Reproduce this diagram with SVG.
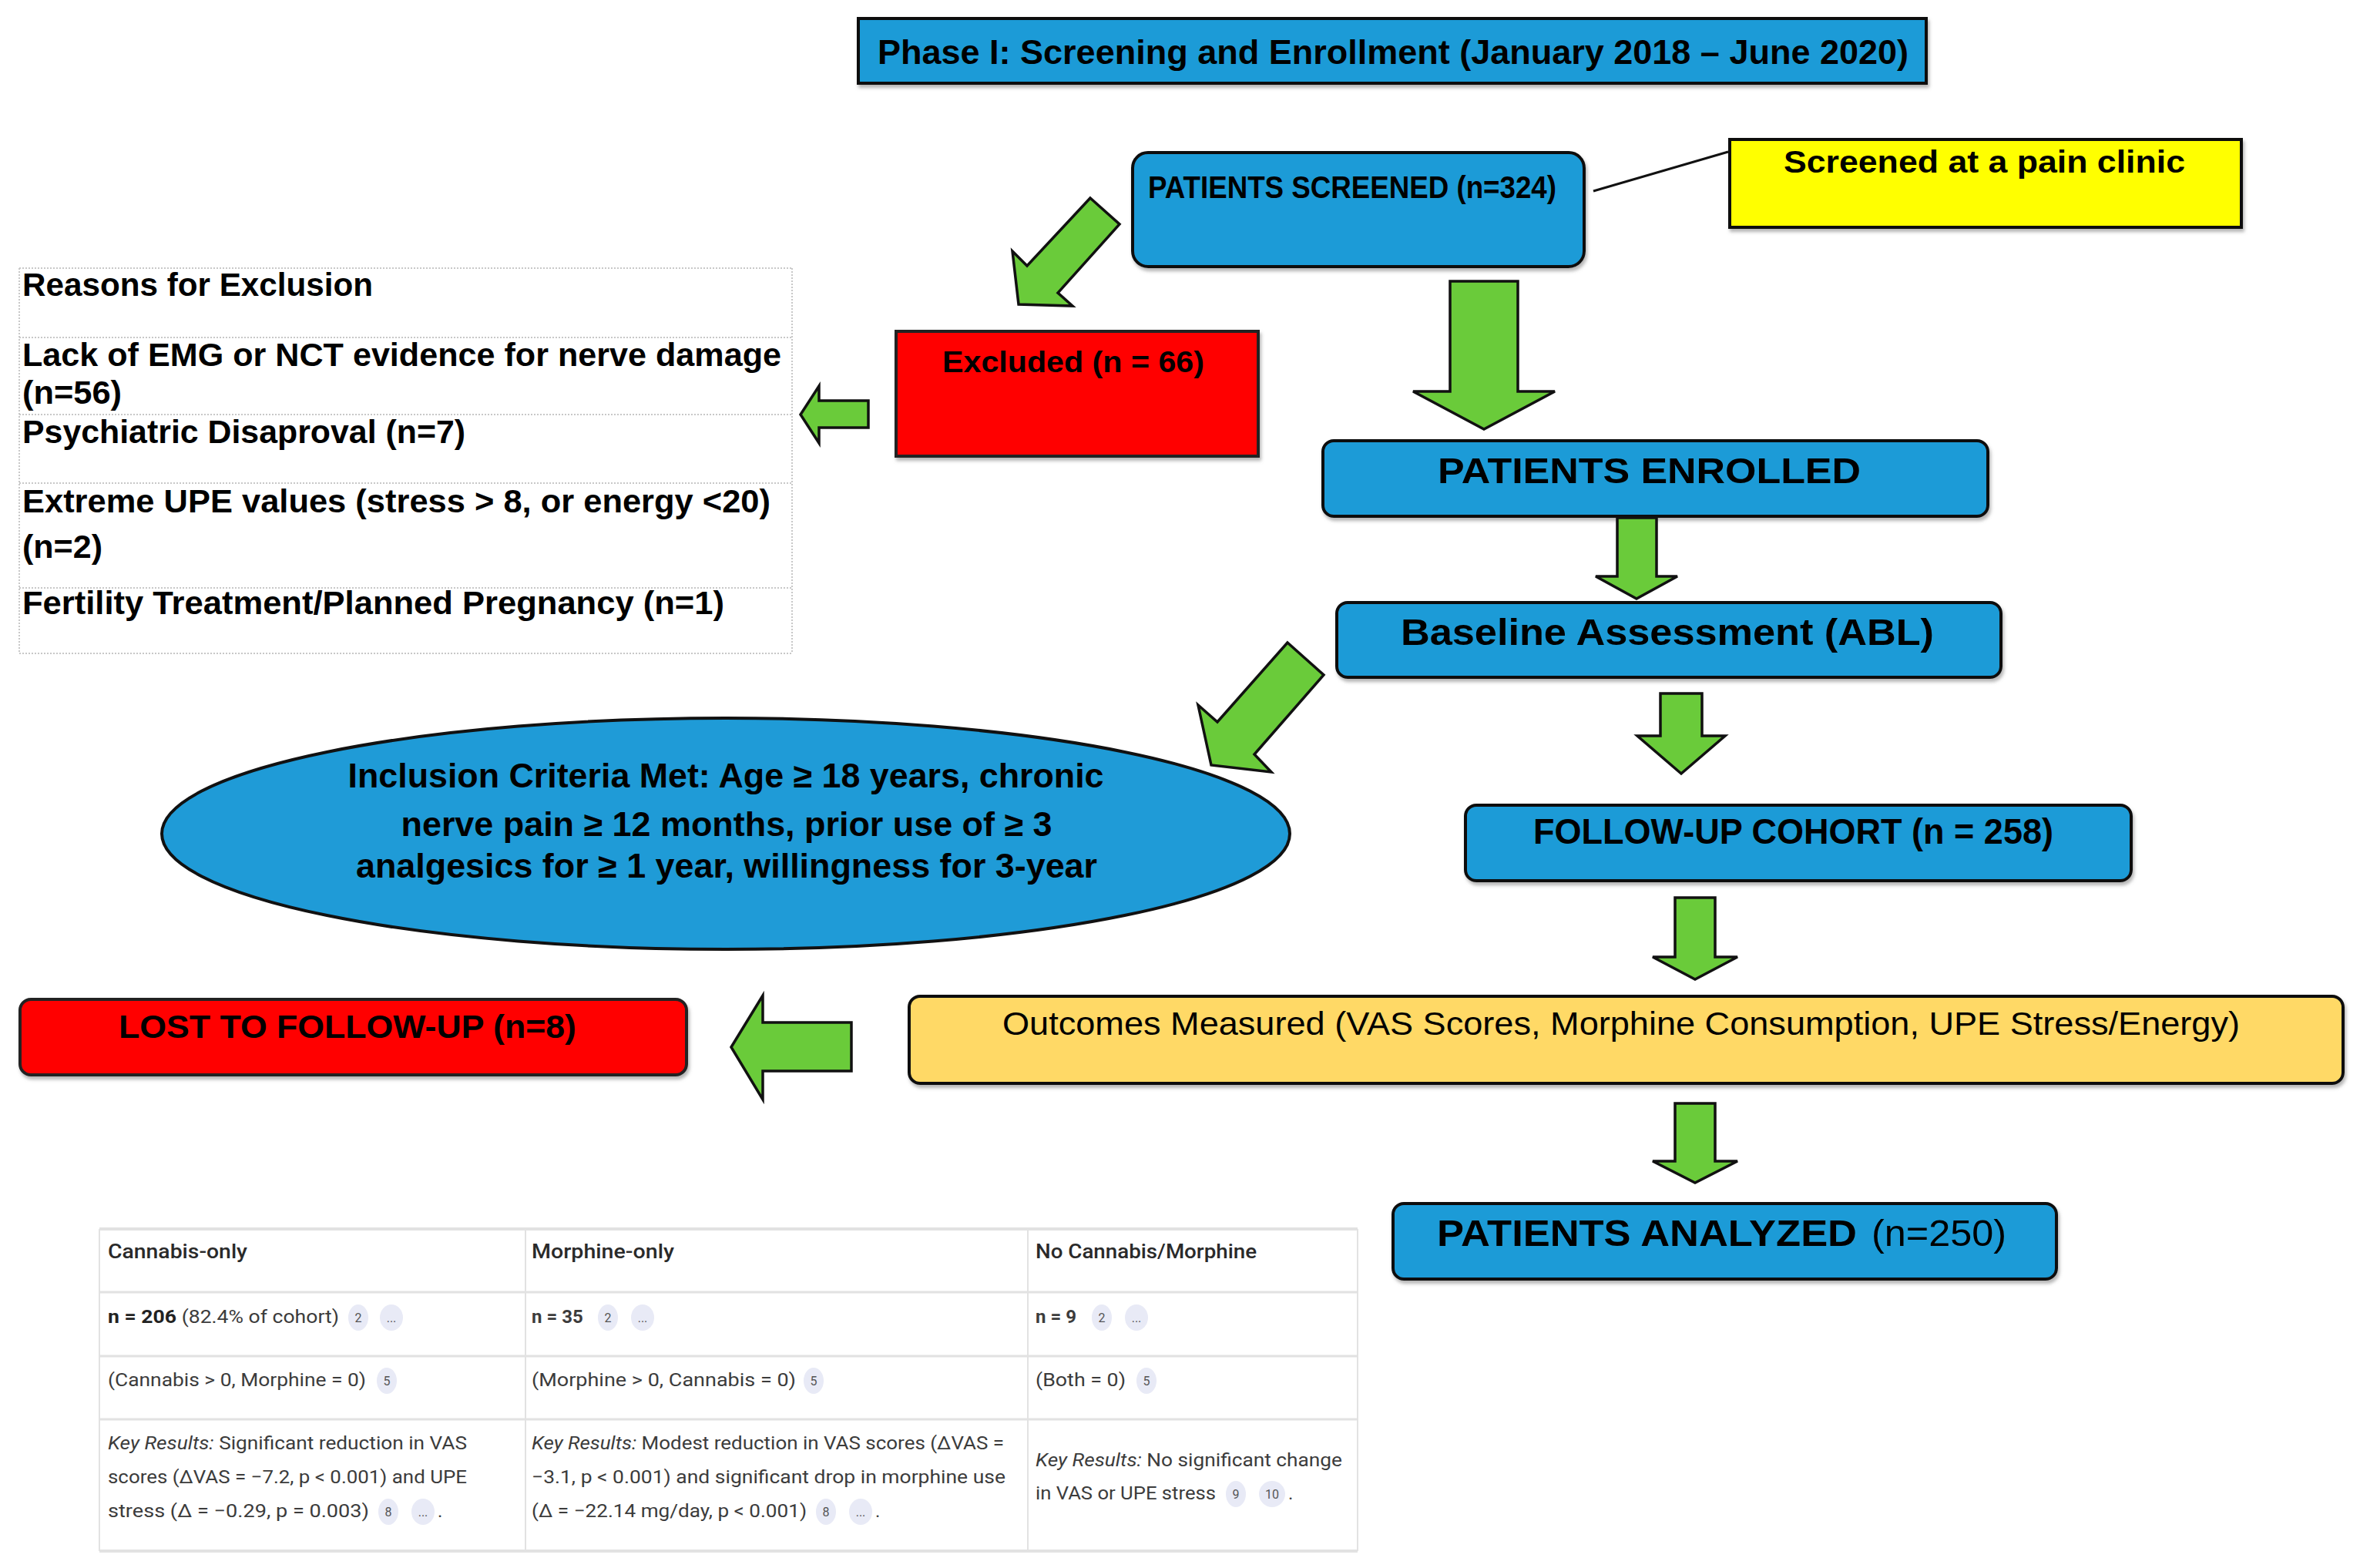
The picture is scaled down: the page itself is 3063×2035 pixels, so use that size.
<svg xmlns="http://www.w3.org/2000/svg" width="3063" height="2035" viewBox="0 0 3063 2035">
<defs>
<filter id="sh" x="-5%" y="-10%" width="110%" height="130%">
<feDropShadow dx="2" dy="4" stdDeviation="2" flood-color="#777" flood-opacity="0.55"/>
</filter>
<style>
.blue{fill:#1f9bd7;stroke:#111;stroke-width:4}
.red{fill:#ff0000;stroke:#222;stroke-width:4}
.arr{fill:#6acb3a;stroke:#111;stroke-width:3.5;stroke-linejoin:miter}
.b{font-family:"Liberation Sans",Arial,sans-serif;font-weight:bold;fill:#000}
.r{font-family:"Liberation Sans",Arial,sans-serif;font-weight:normal;fill:#000}
.rs{font-family:"Liberation Sans",Arial,sans-serif;font-weight:bold;fill:#000;font-size:42px}
.dot{stroke:#c8c8c8;stroke-width:2;stroke-dasharray:2 2;fill:none}
.tl{font-family:Roboto,"Liberation Sans",sans-serif;font-size:24px;fill:#3c3c3c}
.th{font-family:Roboto,"Liberation Sans",sans-serif;font-size:25px;font-weight:500;fill:#2a2a2a}
.bd{fill:#e8eaf6}
.bt{font-family:Roboto,"Liberation Sans",sans-serif;font-size:16px;fill:#555;text-anchor:middle}
.gl{stroke:#e2e2e2;fill:none}
</style>
</defs>
<rect width="3063" height="2035" fill="#fff"/>

<g id="title">
<rect x="1114" y="24" width="1386" height="84" fill="#1f9bd7" stroke="#111" stroke-width="4" filter="url(#sh)"/>
<text class="b" x="1139" y="83" font-size="44" textLength="1338" lengthAdjust="spacingAndGlyphs">Phase I: Screening and Enrollment (January 2018 – June 2020)</text>
</g>

<g id="screened">
<rect class="blue" x="1470" y="198" width="586" height="148" rx="20" filter="url(#sh)"/>
<text class="b" x="1490" y="257" font-size="40" textLength="530" lengthAdjust="spacingAndGlyphs">PATIENTS SCREENED (n=324)</text>
</g>

<g id="pain-clinic">
<rect x="2245" y="181" width="664" height="114" fill="#ffff00" stroke="#111" stroke-width="4" filter="url(#sh)"/>
<text class="b" x="2315" y="224" font-size="40" textLength="521" lengthAdjust="spacingAndGlyphs">Screened at a pain clinic</text>
</g>

<g id="excluded">
<rect class="red" x="1163" y="430" width="470" height="162" filter="url(#sh)"/>
<text class="b" x="1223" y="483" font-size="38" textLength="340" lengthAdjust="spacingAndGlyphs" fill="#1a0000">Excluded (n = 66)</text>
</g>

<g id="reasons">
<line class="dot" x1="25" y1="348" x2="1028" y2="348"/>
<line class="dot" x1="25" y1="348" x2="25" y2="848"/>
<line class="dot" x1="1028" y1="348" x2="1028" y2="848"/>
<line class="dot" x1="25" y1="438" x2="1028" y2="438"/>
<line class="dot" x1="25" y1="538" x2="1028" y2="538"/>
<line class="dot" x1="25" y1="627" x2="1028" y2="627"/>
<line class="dot" x1="25" y1="763" x2="1028" y2="763"/>
<line class="dot" x1="25" y1="848" x2="1028" y2="848"/>
<text class="rs" x="29" y="384" textLength="455" lengthAdjust="spacingAndGlyphs">Reasons for Exclusion</text>
<text class="rs" x="29" y="475" textLength="985" lengthAdjust="spacingAndGlyphs">Lack of EMG or NCT evidence for nerve damage</text>
<text class="rs" x="29" y="524" textLength="129" lengthAdjust="spacingAndGlyphs">(n=56)</text>
<text class="rs" x="29" y="575" textLength="575" lengthAdjust="spacingAndGlyphs">Psychiatric Disaproval (n=7)</text>
<text class="rs" x="29" y="665" textLength="971" lengthAdjust="spacingAndGlyphs">Extreme UPE values (stress &gt; 8, or energy &lt;20)</text>
<text class="rs" x="29" y="724" textLength="104" lengthAdjust="spacingAndGlyphs">(n=2)</text>
<text class="rs" x="29" y="797" textLength="911" lengthAdjust="spacingAndGlyphs">Fertility Treatment/Planned Pregnancy (n=1)</text>
</g>

<g id="enrolled">
<rect class="blue" x="1717" y="572" width="863" height="98" rx="14" filter="url(#sh)"/>
<text class="b" x="1866" y="627" font-size="46" textLength="549" lengthAdjust="spacingAndGlyphs">PATIENTS ENROLLED</text>
</g>

<g id="baseline">
<rect class="blue" x="1735" y="782" width="862" height="97" rx="14" filter="url(#sh)"/>
<text class="b" x="1818" y="837" font-size="48" textLength="692" lengthAdjust="spacingAndGlyphs">Baseline Assessment (ABL)</text>
</g>

<g id="inclusion">
<ellipse cx="942" cy="1082" rx="732" ry="150" fill="#1f9bd7" stroke="#111" stroke-width="4"/>
<text class="b" x="942" y="1022" font-size="44" text-anchor="middle" textLength="981" lengthAdjust="spacingAndGlyphs">Inclusion Criteria Met: Age ≥ 18 years, chronic</text>
<text class="b" x="943" y="1085" font-size="44" text-anchor="middle" textLength="845" lengthAdjust="spacingAndGlyphs">nerve pain ≥ 12 months, prior use of ≥ 3</text>
<text class="b" x="943" y="1139" font-size="44" text-anchor="middle" textLength="962" lengthAdjust="spacingAndGlyphs">analgesics for ≥ 1 year, willingness for 3-year</text>
</g>

<g id="followup">
<rect class="blue" x="1902" y="1045" width="864" height="98" rx="14" filter="url(#sh)"/>
<text class="b" x="1990" y="1095" font-size="46" textLength="675" lengthAdjust="spacingAndGlyphs">FOLLOW-UP COHORT (n = 258)</text>
</g>

<g id="outcomes">
<rect x="1180" y="1293" width="1861" height="113" rx="14" fill="#ffd966" stroke="#111" stroke-width="4" filter="url(#sh)"/>
<text class="r" x="1301" y="1343" font-size="42" textLength="1606" lengthAdjust="spacingAndGlyphs">Outcomes Measured (VAS Scores, Morphine Consumption, UPE Stress/Energy)</text>
</g>

<g id="lost">
<rect class="red" x="26" y="1297" width="865" height="98" rx="14" filter="url(#sh)"/>
<text class="b" x="154" y="1347" font-size="42" textLength="594" lengthAdjust="spacingAndGlyphs">LOST TO FOLLOW-UP (n=8)</text>
</g>

<g id="analyzed">
<rect class="blue" x="1808" y="1562" width="861" height="98" rx="14" filter="url(#sh)"/>
<text x="1865" y="1617" font-size="48"><tspan class="b" textLength="545" lengthAdjust="spacingAndGlyphs">PATIENTS ANALYZED</tspan><tspan class="r" x="2429" textLength="175" lengthAdjust="spacingAndGlyphs">(n=250)</tspan></text>
</g>

<g id="results-table">
<line class="gl" stroke-width="4" x1="129" y1="1595" x2="1762" y2="1595"/>
<line class="gl" stroke-width="3" x1="129" y1="1677" x2="1762" y2="1677"/>
<line class="gl" stroke-width="3" x1="129" y1="1760" x2="1762" y2="1760"/>
<line class="gl" stroke-width="3" x1="129" y1="1842" x2="1762" y2="1842"/>
<line class="gl" stroke-width="4" x1="129" y1="2013" x2="1762" y2="2013"/>
<line class="gl" stroke-width="2" x1="129" y1="1595" x2="129" y2="2013"/>
<line class="gl" stroke-width="2" x1="682" y1="1595" x2="682" y2="2013"/>
<line class="gl" stroke-width="2" x1="1334" y1="1595" x2="1334" y2="2013"/>
<line class="gl" stroke-width="2" x1="1762" y1="1595" x2="1762" y2="2013"/>

<text class="th" x="140" y="1633" textLength="181" lengthAdjust="spacingAndGlyphs">Cannabis-only</text>
<text class="th" x="690" y="1633" textLength="185" lengthAdjust="spacingAndGlyphs">Morphine-only</text>
<text class="th" x="1344" y="1633" textLength="287" lengthAdjust="spacingAndGlyphs">No Cannabis/Morphine</text>

<text class="tl" x="140" y="1717" textLength="300" lengthAdjust="spacingAndGlyphs"><tspan font-weight="bold" fill="#222">n = 206</tspan> (82.4% of cohort)</text>
<text class="tl" x="690" y="1717" font-weight="bold" fill="#222">n = 35</text>
<text class="tl" x="1344" y="1717" font-weight="bold" fill="#222">n = 9</text>
<ellipse class="bd" cx="465" cy="1710" rx="13" ry="17"/><text class="bt" x="465" y="1716">2</text>
<ellipse class="bd" cx="508" cy="1710" rx="15" ry="17"/><text class="bt" x="508" y="1716">...</text>
<ellipse class="bd" cx="789" cy="1710" rx="13" ry="17"/><text class="bt" x="789" y="1716">2</text>
<ellipse class="bd" cx="834" cy="1710" rx="15" ry="17"/><text class="bt" x="834" y="1716">...</text>
<ellipse class="bd" cx="1430" cy="1710" rx="13" ry="17"/><text class="bt" x="1430" y="1716">2</text>
<ellipse class="bd" cx="1475" cy="1710" rx="15" ry="17"/><text class="bt" x="1475" y="1716">...</text>

<text class="tl" x="140" y="1799" textLength="335" lengthAdjust="spacingAndGlyphs">(Cannabis &gt; 0, Morphine = 0)</text>
<text class="tl" x="690" y="1799" textLength="343" lengthAdjust="spacingAndGlyphs">(Morphine &gt; 0, Cannabis = 0)</text>
<text class="tl" x="1344" y="1799" textLength="117" lengthAdjust="spacingAndGlyphs">(Both = 0)</text>
<ellipse class="bd" cx="502" cy="1792" rx="13" ry="17"/><text class="bt" x="502" y="1798">5</text>
<ellipse class="bd" cx="1056" cy="1792" rx="13" ry="17"/><text class="bt" x="1056" y="1798">5</text>
<ellipse class="bd" cx="1488" cy="1792" rx="13" ry="17"/><text class="bt" x="1488" y="1798">5</text>

<text class="tl" x="140" y="1881" textLength="466" lengthAdjust="spacingAndGlyphs"><tspan font-style="italic">Key Results:</tspan> Significant reduction in VAS</text>
<text class="tl" x="140" y="1925" textLength="466" lengthAdjust="spacingAndGlyphs">scores (ΔVAS = −7.2, p &lt; 0.001) and UPE</text>
<text class="tl" x="140" y="1969" textLength="339" lengthAdjust="spacingAndGlyphs">stress (Δ = −0.29, p = 0.003)</text>
<ellipse class="bd" cx="504" cy="1962" rx="13" ry="17"/><text class="bt" x="504" y="1968">8</text>
<ellipse class="bd" cx="549" cy="1962" rx="15" ry="17"/><text class="bt" x="549" y="1968">...</text>
<text class="tl" x="568" y="1969">.</text>

<text class="tl" x="690" y="1881" textLength="613" lengthAdjust="spacingAndGlyphs"><tspan font-style="italic">Key Results:</tspan> Modest reduction in VAS scores (ΔVAS =</text>
<text class="tl" x="690" y="1925" textLength="615" lengthAdjust="spacingAndGlyphs">−3.1, p &lt; 0.001) and significant drop in morphine use</text>
<text class="tl" x="690" y="1969" textLength="357" lengthAdjust="spacingAndGlyphs">(Δ = −22.14 mg/day, p &lt; 0.001)</text>
<ellipse class="bd" cx="1072" cy="1962" rx="13" ry="17"/><text class="bt" x="1072" y="1968">8</text>
<ellipse class="bd" cx="1117" cy="1962" rx="15" ry="17"/><text class="bt" x="1117" y="1968">...</text>
<text class="tl" x="1136" y="1969">.</text>

<text class="tl" x="1344" y="1903" textLength="398" lengthAdjust="spacingAndGlyphs"><tspan font-style="italic">Key Results:</tspan> No significant change</text>
<text class="tl" x="1344" y="1946" textLength="234" lengthAdjust="spacingAndGlyphs">in VAS or UPE stress</text>
<ellipse class="bd" cx="1604" cy="1939" rx="13" ry="17"/><text class="bt" x="1604" y="1945">9</text>
<ellipse class="bd" cx="1651" cy="1939" rx="17" ry="17"/><text class="bt" x="1651" y="1945">10</text>
<text class="tl" x="1672" y="1946">.</text>
</g>

<g id="connectors">
<line x1="2068" y1="248" x2="2243" y2="197" stroke="#111" stroke-width="3"/>
<polygon class="arr" points="1415,257 1453,291 1373,380 1392,397 1322,395 1314,326 1333,345"/>
<polygon class="arr" points="1882,365 1970,365 1970,508 2018,508 1926,557 1834,508 1882,508"/>
<polygon class="arr" points="1039,538 1063,501 1063,520 1127,520 1127,555 1063,555 1063,575"/>
<polygon class="arr" points="2099,672 2150,672 2150,748 2177,748 2124,777 2071,748 2099,748"/>
<polygon class="arr" points="1671,834 1718,876 1628,979 1650,1002 1572,993 1555,915 1580,937"/>
<polygon class="arr" points="2155,900 2209,900 2209,955 2239,955 2182,1004 2125,955 2155,955"/>
<polygon class="arr" points="2174,1165 2226,1165 2226,1242 2255,1242 2200,1271 2145,1242 2174,1242"/>
<polygon class="arr" points="949,1359 990,1292 990,1327 1105,1327 1105,1390 990,1390 990,1427"/>
<polygon class="arr" points="2174,1432 2226,1432 2226,1507 2255,1507 2200,1535 2145,1507 2174,1507"/>
</g>
</svg>
